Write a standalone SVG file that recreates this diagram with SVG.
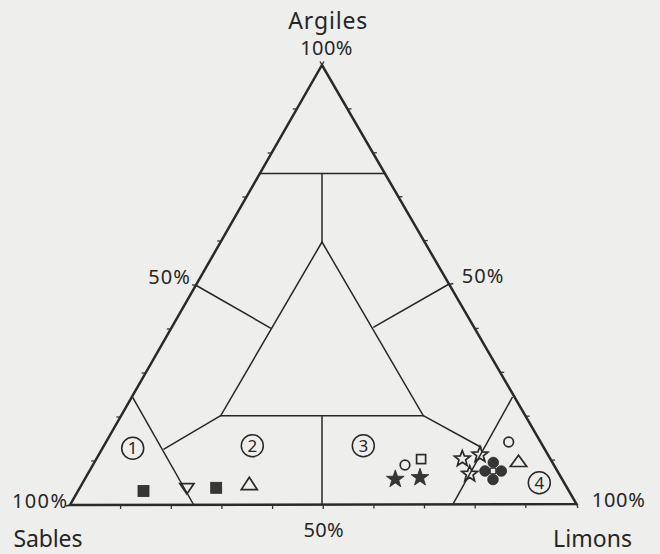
<svg xmlns="http://www.w3.org/2000/svg" width="660" height="554" viewBox="0 0 660 554">
<style>
.bg{fill:#eeeeec}
.outer{fill:none;stroke:#2a2a2a;stroke-width:2.5;stroke-linejoin:miter}
.tick{stroke:#333;stroke-width:1.3}
.ln{fill:none;stroke:#262626;stroke-width:1.5}
.lbl{font-family:"Noto Sans","Open Sans",sans-serif;fill:#262626}
.big{font-size:23px}
.pct{font-size:20px}
.num{font-size:17px}
.ring{fill:none;stroke:#262626;stroke-width:1.5}
.fill{fill:#363636;stroke:#2a2a2a;stroke-width:0.8}
.open{fill:none;stroke:#2a2a2a;stroke-width:1.7}
</style>
<defs>
<path id="starF" d="M0,-9.3 L2.19,-3.01 L8.84,-2.87 L3.54,1.15 L5.47,7.52 L0,3.72 L-5.47,7.52 L-3.54,1.15 L-8.84,-2.87 L-2.19,-3.01 Z"/>
<path id="starO" d="M0,-8.3 L2.09,-2.87 L7.89,-2.56 L3.37,1.09 L4.88,6.71 L0,3.55 L-4.88,6.71 L-3.37,1.09 L-7.89,-2.56 L-2.09,-2.87 Z"/>
</defs>
<rect class="bg" x="0" y="0" width="660" height="554"/>

<g id="frame">
<polygon class="outer" points="70,505 576.5,504 322,65"/>
<g id="ticks">
<line class="tick" x1="120.6" y1="505" x2="120.6" y2="509"/>
<line class="tick" x1="171.3" y1="505" x2="171.3" y2="509"/>
<line class="tick" x1="221.9" y1="505" x2="221.9" y2="509"/>
<line class="tick" x1="272.6" y1="505" x2="272.6" y2="509"/>
<line class="tick" x1="323.2" y1="505" x2="323.2" y2="509"/>
<line class="tick" x1="373.9" y1="504.5" x2="373.9" y2="508.5"/>
<line class="tick" x1="424.5" y1="504.5" x2="424.5" y2="508.5"/>
<line class="tick" x1="475.2" y1="504.5" x2="475.2" y2="508.5"/>
<line class="tick" x1="525.8" y1="504" x2="525.8" y2="508"/>
<line class="tick" x1="576.5" y1="504" x2="578" y2="508"/>
<line class="tick" x1="95.2" y1="461" x2="91.2" y2="461"/>
<line class="tick" x1="120.4" y1="417" x2="116.4" y2="417"/>
<line class="tick" x1="145.6" y1="373" x2="141.6" y2="373"/>
<line class="tick" x1="170.8" y1="329" x2="166.8" y2="329"/>
<line class="tick" x1="196" y1="285" x2="192" y2="285"/>
<line class="tick" x1="221.2" y1="241" x2="217.2" y2="241"/>
<line class="tick" x1="246.4" y1="197" x2="242.4" y2="197"/>
<line class="tick" x1="271.6" y1="153" x2="267.6" y2="153"/>
<line class="tick" x1="296.8" y1="109" x2="292.8" y2="109"/>
<line class="tick" x1="70" y1="505" x2="66" y2="506"/>
<line class="tick" x1="322" y1="65" x2="320" y2="61.5"/>
<line class="tick" x1="322" y1="65" x2="324" y2="61.5"/>
<line class="tick" x1="551" y1="460.1" x2="555" y2="460.1"/>
<line class="tick" x1="525.6" y1="416.2" x2="529.6" y2="416.2"/>
<line class="tick" x1="500.2" y1="372.3" x2="504.2" y2="372.3"/>
<line class="tick" x1="474.7" y1="328.4" x2="478.7" y2="328.4"/>
<line class="tick" x1="449.3" y1="284.5" x2="453.3" y2="283.5"/>
<line class="tick" x1="423.8" y1="240.6" x2="427.8" y2="240.6"/>
<line class="tick" x1="398.4" y1="196.7" x2="402.4" y2="196.7"/>
<line class="tick" x1="372.9" y1="152.8" x2="376.9" y2="152.8"/>
<line class="tick" x1="347.5" y1="108.9" x2="351.5" y2="108.9"/>
</g>
</g>

<g id="connectors">
<line class="ln" x1="260" y1="173.5" x2="384.5" y2="173.5"/>
<line class="ln" x1="322" y1="173.5" x2="322" y2="242"/>
<polygon class="ln" points="322,242 220.7,415.7 423.3,415.7"/>
<line class="ln" x1="322" y1="415.7" x2="322" y2="504.5"/>
<line class="ln" x1="195.5" y1="285" x2="271" y2="328.3"/>
<line class="ln" x1="450" y1="283.5" x2="373.3" y2="327.3"/>
<line class="ln" x1="220.7" y1="415.7" x2="163.5" y2="449.3"/>
<line class="ln" x1="423.3" y1="415.7" x2="481.5" y2="447.5"/>
<line class="ln" x1="132.7" y1="397.3" x2="193.5" y2="504.5"/>
<line class="ln" x1="512.5" y1="397" x2="453" y2="504.2"/>
</g>

<g id="labels" class="lbl">
<text class="big" x="327.8" y="28.5" text-anchor="middle" textLength="79">Argiles</text>
<text class="pct" x="326.3" y="55" text-anchor="middle" textLength="52">100%</text>
<text class="pct" x="169" y="283.5" text-anchor="middle" textLength="41.5">50%</text>
<text class="pct" x="482.5" y="283" text-anchor="middle" textLength="41.5">50%</text>
<text class="pct" x="39.5" y="507.5" text-anchor="middle" textLength="55">100%</text>
<text class="pct" x="618.3" y="506.5" text-anchor="middle" textLength="53">100%</text>
<text class="pct" x="323.5" y="537" text-anchor="middle" textLength="40">50%</text>
<text class="big" x="48" y="547" text-anchor="middle" textLength="69">Sables</text>
<text class="big" x="592.5" y="547" text-anchor="middle" textLength="79">Limons</text>
</g>

<g id="region-1"><circle class="ring" cx="132.7" cy="448.3" r="11"/><text class="lbl num" x="132.7" y="454.3" text-anchor="middle">1</text></g>
<g id="region-2"><circle class="ring" cx="252.3" cy="445.7" r="11"/><text class="lbl num" x="252.3" y="451.7" text-anchor="middle">2</text></g>
<g id="region-3"><circle class="ring" cx="363.3" cy="445.7" r="11"/><text class="lbl num" x="363.3" y="451.7" text-anchor="middle">3</text></g>
<g id="region-4"><circle class="ring" cx="539.3" cy="482.7" r="11"/><text class="lbl num" x="539.3" y="488.7" text-anchor="middle">4</text></g>

<g id="markers">
<rect class="fill" x="138" y="485.5" width="11" height="11"/>
<polygon class="open" points="179.8,483.6 194,483.6 186.9,494"/>
<rect class="fill" x="210.7" y="482.3" width="11" height="11"/>
<polygon class="open" points="249.3,477.3 241.3,489.6 257.3,489.6"/>
<use href="#starF" x="395.3" y="479.2" class="fill"/>
<use href="#starF" x="420" y="477.5" class="fill"/>
<circle class="open" cx="405" cy="465" r="4.8"/>
<rect class="open" x="416.6" y="454.6" width="9" height="9"/>
<use href="#starO" x="462.3" y="458.8" class="open"/>
<use href="#starO" x="480" y="454.7" class="open"/>
<use href="#starO" x="469.7" y="474" class="open"/>
<circle class="fill" cx="493.3" cy="462.5" r="5.3"/>
<circle class="fill" cx="485" cy="471" r="5.3"/>
<circle class="fill" cx="501.3" cy="471" r="5.3"/>
<circle class="fill" cx="493" cy="479.5" r="5.3"/>
<rect x="490.3" y="468.3" width="5.4" height="5.4" fill="#eeeeec" stroke="#333" stroke-width="1"/>
<circle class="open" cx="508.7" cy="442" r="4.8"/>
<polygon class="open" points="518.5,455.3 510.3,466.5 526.7,466.5"/>
</g>
</svg>
